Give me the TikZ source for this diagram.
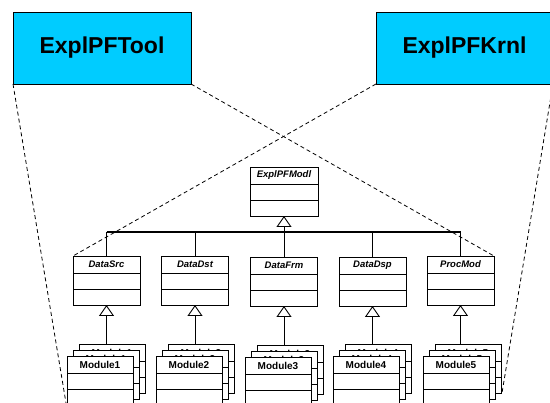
\documentclass[tikz,border=0pt]{standalone}
\usepackage{fontspec}
\setmainfont{Liberation Sans}
\usetikzlibrary{arrows.meta,calc}
\definecolor{cyanbox}{RGB}{0,204,255}
\newcommand\umlcls[5]{% name, centre x, top y, label, width
  \node[clsbox, minimum width=#5] (#1) at (#2,#3) {};
  \node[clsname] (#1t) at ($(#1.north)+(0,8.5)$) {#4};
  \draw[clsline] ($(#1.north west)+(0,17)$) -- ($(#1.north east)+(0,17)$);
  \draw[clsline] ($(#1.north west)+(0,33)$) -- ($(#1.north east)+(0,33)$);
}
\newcommand\modbox[4]{% name, left x, top y, label
  \node[modbox] (#1) at (#2,#3) {};
  \draw[clsline] ($(#1.north west)+(0,17)$) -- ($(#1.north east)+(0,17)$);
  \draw[clsline] ($(#1.north west)+(0,33)$) -- ($(#1.north east)+(0,33)$);
  \node[modname] (#1t) at ($(#1.north)+(0,8.5)$) {#4};
}
\newcommand\modstack[4]{% name, front left x, front top y, label
  \modbox{#1a}{#2+12}{#3-12}{#4}
  \modbox{#1b}{#2+6}{#3-6}{#4}
  \modbox{#1c}{#2}{#3}{#4}
}
\begin{document}
\begin{tikzpicture}[x=1pt,y=-1pt,
  every node/.style={inner sep=0pt, outer sep=0pt},
  bluebox/.style={draw=black, line width=0.8pt, fill=cyanbox, minimum height=72pt,
    anchor=north west, font=\fontsize{23}{27}\selectfont\bfseries},
  clsbox/.style={draw=black, line width=0.9pt, fill=white, minimum height=49pt, anchor=north},
  modbox/.style={draw=black, line width=0.9pt, fill=white, minimum width=66pt,
    minimum height=49pt, anchor=north west},
  clsline/.style={draw=black, line width=0.9pt},
  clsname/.style={font=\fontsize{9.5}{11}\selectfont\bfseries\itshape},
  modname/.style={font=\fontsize{10}{12}\selectfont\bfseries},
  conn/.style={draw=black, line width=0.9pt},
  gen/.style={conn, -{Triangle[open, length=11pt, width=15pt, line width=0.9pt]}},
  bus/.style={draw=black, line width=1.4pt},
  dashline/.style={draw=black, line width=0.8pt, dash pattern=on 4pt off 3pt}
]
\useasboundingbox (0,0) rectangle (550,403);
\clip (0,0) rectangle (550,403);
\fill[white] (0,0) rectangle (550,403);

% top boxes
\node[bluebox, minimum width=178pt] (tool) at (13,12) {ExplPFTool};
\node[bluebox, minimum width=177pt] (krnl) at (376,12) {ExplPFKrnl};

% classes
\umlcls{modl}{284}{167}{ExplPFModl}{68pt}
\umlcls{src}{106.5}{256}{DataSrc}{67pt}
\umlcls{dst}{195}{256}{DataDst}{67pt}
\umlcls{frm}{284}{257}{DataFrm}{67pt}
\umlcls{dsp}{372.5}{257}{DataDsp}{67pt}
\umlcls{proc}{460.5}{256}{ProcMod}{67pt}

% dashed projection lines
\coordinate (lowL) at (66,403);
\coordinate (lowR) at (502,393);
\draw[dashline] (tool.south west) -- (lowL);
\draw[dashline] (tool.south east) -- (proc.north east);
\draw[dashline] (krnl.south west) -- (src.north west);
\draw[dashline] (krnl.south east) -- (lowR);

% generalisation to ExplPFModl
\coordinate (bar) at (284,232);
\draw[bus] (src.north |- bar) -- (proc.north |- bar);
\draw[gen] (frm.north) -- (modl.south);
\draw[conn] (src.north) -- (src.north |- bar);
\draw[conn] (dst.north) -- (dst.north |- bar);
\draw[conn] (dsp.north) -- (dsp.north |- bar);
\draw[conn] (proc.north) -- (proc.north |- bar);

% module stacks
\modstack{ma}{67}{356}{Module1}
\modstack{mb}{156}{356}{Module2}
\modstack{mc}{245}{357}{Module3}
\modstack{md}{333}{356}{Module4}
\modstack{me}{423}{356}{Module5}

\draw[gen] (src.south |- maa.north) -- (src.south);
\draw[gen] (dst.south |- mba.north) -- (dst.south);
\draw[gen] (frm.south |- mca.north) -- (frm.south);
\draw[gen] (dsp.south |- mda.north) -- (dsp.south);
\draw[gen] (proc.south |- mea.north) -- (proc.south);
\end{tikzpicture}
\end{document}
